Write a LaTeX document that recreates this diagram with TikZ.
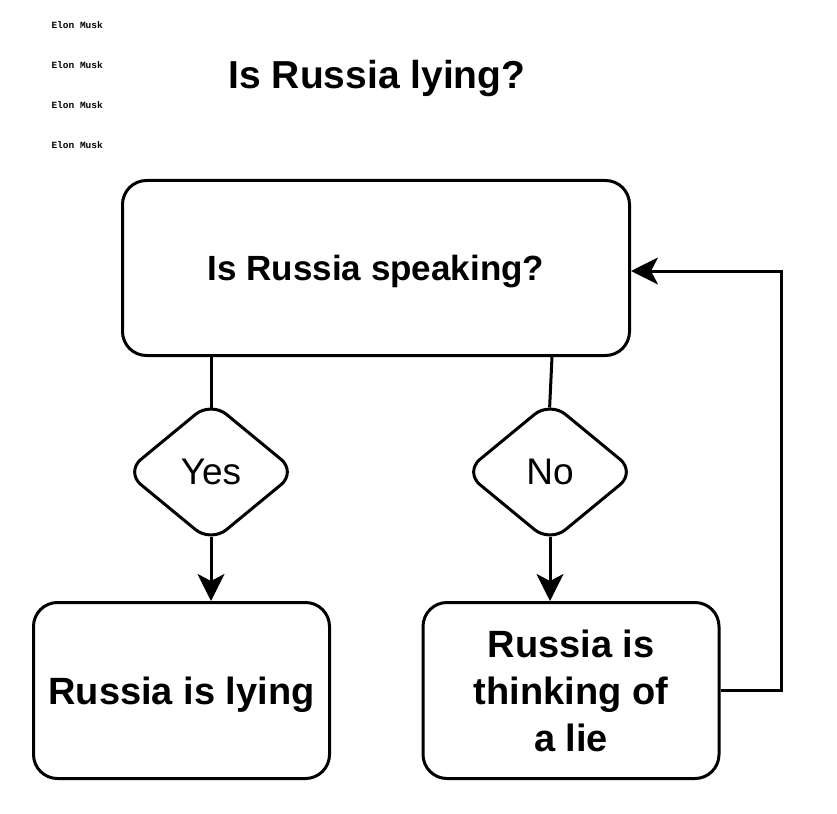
\documentclass[tikz,border=0pt]{standalone}
\usepackage{fontspec}
\setmainfont{Liberation Sans}
\setmonofont{Liberation Mono}
\usetikzlibrary{arrows.meta,positioning,shapes.geometric}

\begin{document}
\begin{tikzpicture}[
  x=1pt,y=-1pt,
  line width=3pt,
  box/.style={draw,rounded corners=24pt,align=center,inner sep=0pt,font=\fontsize{38}{47}\selectfont\bfseries},
  choice/.style={draw,diamond,rounded corners=20pt,minimum width=172pt,minimum height=142pt,inner sep=0pt,font=\fontsize{37}{40}\selectfont},
  arrow/.style={-{Stealth[length=27pt,width=27pt,inset=7pt]}},
  tag/.style={anchor=west,inner sep=0pt,font=\ttfamily\bfseries\fontsize{9.5}{10}\selectfont},
]
  \useasboundingbox (0,0) rectangle (837,813);

  \foreach \i/\y in {1/25,2/65,3/105,4/145}
    \node[tag] (elon\i) at (50,\y) {Elon Musk};

  \node[font=\fontsize{39}{45}\selectfont\bfseries] (title) at (377,79) {Is Russia lying?};

  \node[box,minimum width=507pt,minimum height=175pt,text depth=0pt,font=\fontsize{35}{42}\selectfont\bfseries] (speak) at (376,268) {Is Russia speaking?};
  \node[choice] (yes) at (211,472) {Yes};
  \node[choice] (no) at (550,472) {No};
  \node[box,minimum width=296pt,minimum height=176pt,text depth=0pt] (lying) at (181.5,690.5) {Russia is lying};
  \node[box,minimum width=296pt,minimum height=176pt] (thinking) at (571,690.5) {Russia is\\thinking of\\a lie};

  \draw[shorten >=-8pt] (yes.north |- speak.south) -- (yes.north);
  \draw[shorten >=-8pt] ([xshift=2pt]no.north |- speak.south) -- (no.north);
  \draw[arrow,shorten <=-8pt] (yes.south) -- (yes.south |- lying.north);
  \draw[arrow,shorten <=-8pt] (no.south) -- (no.south |- thinking.north);
  \draw[arrow] (thinking.east) -- ++(61,0) |- ([yshift=-3pt]speak.east);
\end{tikzpicture}
\end{document}
